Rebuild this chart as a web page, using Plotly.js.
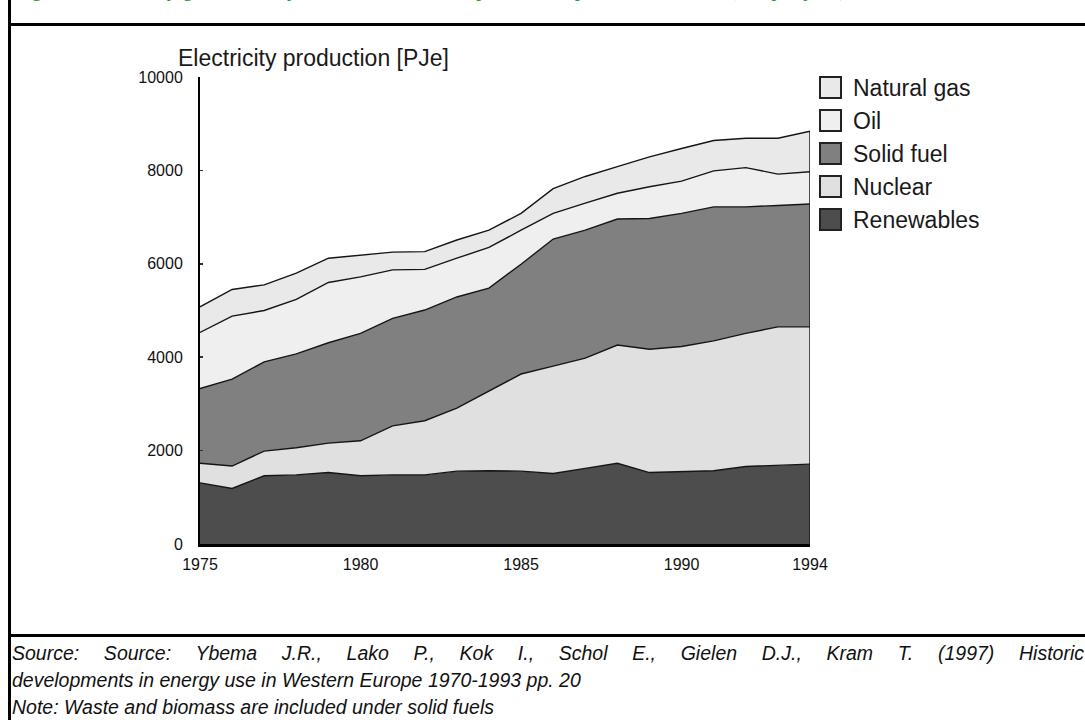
<!DOCTYPE html>
<html>
<head>
<meta charset="utf-8">
<script src="https://cdn.plot.ly/plotly-3.0.1.min.js"></script>
<style>
  html, body { margin: 0; padding: 0; background: #fff; }
  body { width: 1085px; height: 720px; position: relative; overflow: hidden; }
  #chart { position: absolute; left: 0; top: 0; width: 1085px; height: 720px; }
  .frame { position: absolute; background: #000; }
  #header { position: absolute; top: -21px; left: 14px; font-family: "Liberation Serif", "Times New Roman", serif;
            font-size: 21px; line-height: 21px; color: #1a9a1a; white-space: nowrap; }
  .foot { position: absolute; left: 12px; font-family: "Liberation Sans", Arial, sans-serif; font-style: italic;
          font-size: 19.5px; line-height: 27px; color: #111; white-space: nowrap; }
  #foot1 { top: 640px; width: 1072px; text-align: justify; text-align-last: justify; white-space: normal; }
  #foot2 { top: 667px; }
  #foot3 { top: 694px; }
</style>
</head>
<body>
<div id="header">Figure 9 Electricity generation by fuel in Western Europe over the period 1975-1994 (PJe per year)</div>
<div class="frame" style="left:8px; top:0; width:3px; height:720px;"></div>
<div class="frame" style="left:8px; top:23px; width:1077px; height:3px;"></div>
<div class="frame" style="left:8px; top:634px; width:1077px; height:3px;"></div>
<div id="chart"></div>
<div class="foot" id="foot1">Source: Source: Ybema J.R., Lako P., Kok I., Schol E., Gielen D.J., Kram T. (1997) Historic</div>
<div class="foot" id="foot2">developments in energy use in Western Europe 1970-1993 pp. 20</div>
<div class="foot" id="foot3">Note: Waste and biomass are included under solid fuels</div>
<script>
// ---- data (PJe) ----
const years = [1975,1976,1977,1978,1979,1980,1981,1982,1983,1984,1985,1986,1987,1988,1989,1990,1991,1992,1993,1994];
const renewables = [1310,1190,1460,1480,1530,1460,1480,1480,1560,1570,1560,1510,1620,1730,1530,1550,1570,1660,1690,1710];
const nuclear    = [420,480,530,580,630,750,1050,1160,1350,1710,2080,2300,2360,2530,2640,2680,2780,2850,2960,2940];
const solidFuel  = [1600,1860,1910,2010,2150,2300,2300,2370,2380,2200,2350,2720,2740,2700,2800,2850,2870,2710,2600,2630];
const oil        = [1200,1350,1100,1170,1290,1210,1040,870,830,870,730,550,580,550,680,690,770,840,670,690];
const naturalGas = [550,570,550,560,520,470,380,380,390,370,360,530,570,570,640,700,650,630,770,870];

const seriesNames  = ['Renewables','Nuclear','Solid fuel','Oil','Natural gas'];
const seriesValues = [renewables, nuclear, solidFuel, oil, naturalGas];
const seriesColors = ['#4d4d4d','#e0e0e0','#808080','#efefef','#e9e9e9'];

const yTickVals  = [0,2000,4000,6000,8000,10000];
const yTickText  = ['0','2000','4000','6000','8000','10000'];
const xTickVals  = [1975,1980,1985,1990,1994];
const xTickText  = ['1975','1980','1985','1990','1994'];
const yTitle = 'Electricity production [PJe]';

// ---- layout geometry ----
const L = 200, R = 810, T = 77, B = 544, W = 1085, H = 720;
const px2x = p => (p - L) / (R - L);
const px2y = p => (B - p) / (B - T);

const traces = seriesNames.map((n, i) => ({
  type: 'scatter', mode: 'lines', name: n, x: years, y: seriesValues[i],
  stackgroup: 'one', fillcolor: seriesColors[i],
  line: { color: '#151515', width: 1.4, shape: 'linear' },
  showlegend: false, hoverinfo: 'skip'
}));

const lastIdx = years.length - 1;
const total = seriesValues.reduce((s, v) => s + v[lastIdx], 0);

const shapes = [
  { type: 'line', xref: 'x', yref: 'y', x0: years[lastIdx], x1: years[lastIdx], y0: 0, y1: total,
    line: { color: '#1a1a1a', width: 1.5 } }
];
const annotations = [
  { text: yTitle, xref: 'paper', yref: 'paper', x: px2x(176), y: px2y(58), xanchor: 'left', yanchor: 'middle',
    showarrow: false, font: { family: 'Liberation Sans, Arial', size: 23, color: '#1a1a1a' } }
];
// legend (top to bottom: reverse stack order)
const legOrder = seriesNames.map((_, i) => i).reverse();
legOrder.forEach((si, k) => {
  const top = 77 + k * 33;
  shapes.push({ type: 'rect', xref: 'paper', yref: 'paper',
    x0: px2x(820), x1: px2x(841), y0: px2y(top + 21), y1: px2y(top),
    fillcolor: seriesColors[si], line: { color: '#222', width: 2 } });
  annotations.push({ text: seriesNames[si], xref: 'paper', yref: 'paper', x: px2x(851), y: px2y(top + 11),
    xanchor: 'left', yanchor: 'middle', showarrow: false,
    font: { family: 'Liberation Sans, Arial', size: 23, color: '#1a1a1a' } });
});

const layout = {
  width: W, height: H,
  margin: { l: L, r: W - R, t: T, b: H - B, pad: 0 },
  paper_bgcolor: 'rgba(0,0,0,0)', plot_bgcolor: 'rgba(0,0,0,0)',
  showlegend: false,
  xaxis: { range: [years[0], years[lastIdx]], tickvals: xTickVals, ticktext: xTickText,
    showgrid: false, zeroline: false, showline: true, linecolor: '#000', linewidth: 2.5,
    ticks: '', ticklabelstandoff: 4,
    tickfont: { family: 'Liberation Sans, Arial', size: 16, color: '#111' }, fixedrange: true },
  yaxis: { range: [0, 10000], tickvals: yTickVals, ticktext: yTickText,
    showgrid: false, zeroline: false, showline: true, linecolor: '#000', linewidth: 2,
    ticks: 'inside', ticklen: 3, tickwidth: 1.5, tickcolor: '#333', ticklabelstandoff: 12,
    tickfont: { family: 'Liberation Sans, Arial', size: 16, color: '#111' }, fixedrange: true },
  shapes: shapes, annotations: annotations
};

Plotly.newPlot('chart', traces, layout, { displayModeBar: false, staticPlot: true });
</script>
</body>
</html>
